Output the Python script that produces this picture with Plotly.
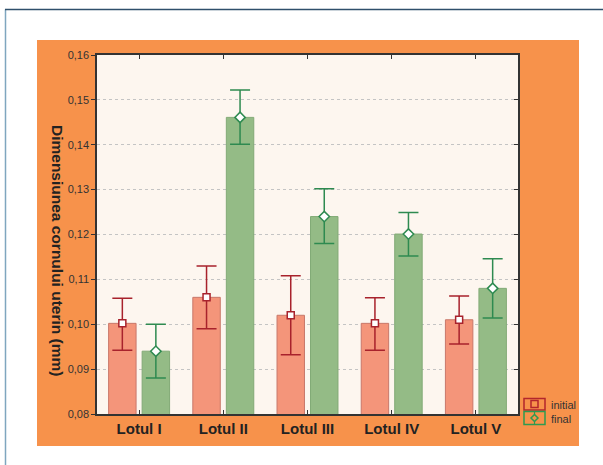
import plotly.graph_objects as go

categories = ["Lotul I", "Lotul II", "Lotul III", "Lotul IV", "Lotul V"]
initial_mean = [0.1002, 0.1060, 0.1020, 0.1002, 0.1010]
initial_low = [0.0942, 0.0990, 0.0932, 0.0942, 0.0956]
initial_high = [0.1058, 0.1130, 0.1108, 0.1059, 0.1063]
final_mean = [0.0940, 0.1461, 0.1240, 0.1201, 0.1080]
final_low = [0.0880, 0.1401, 0.1180, 0.1152, 0.1014]
final_high = [0.1000, 0.1522, 0.1302, 0.1249, 0.1146]
y_ticks = [0.08, 0.09, 0.10, 0.11, 0.12, 0.13, 0.14, 0.15, 0.16]

W, H = 603, 465
L, R, T, B = 97, 518, 55, 414

def px(x):
    return (x - L) / (R - L)

def py(y):
    return (B - y) / (B - T)

idx = list(range(len(categories)))
shift = 0.199
bw = 0.326

C_INI = "#F4957A"
C_INI_LINE = "#C8786A"
C_INI_ERR = "#A8222C"
C_FIN = "#94BB86"
C_FIN_LINE = "#82AA76"
C_FIN_ERR = "#2E8A50"

fig = go.Figure()
fig.add_trace(go.Bar(x=idx, y=initial_mean, width=bw, offset=-shift - bw / 2,
                     marker=dict(color=C_INI, line=dict(color=C_INI_LINE, width=1)),
                     showlegend=False, hoverinfo="skip"))
fig.add_trace(go.Bar(x=idx, y=final_mean, width=bw, offset=shift - bw / 2,
                     marker=dict(color=C_FIN, line=dict(color=C_FIN_LINE, width=1)),
                     showlegend=False, hoverinfo="skip"))

fig.add_trace(go.Scatter(
    x=[i - shift for i in idx], y=initial_mean, mode="markers",
    marker=dict(symbol="square", size=7, color="white", line=dict(color=C_INI_ERR, width=1.5)),
    error_y=dict(type="data", symmetric=False,
                 array=[h - m for h, m in zip(initial_high, initial_mean)],
                 arrayminus=[m - l for l, m in zip(initial_low, initial_mean)],
                 color=C_INI_ERR, thickness=1.5, width=10),
    showlegend=False, hoverinfo="skip"))
fig.add_trace(go.Scatter(
    x=[i + shift for i in idx], y=final_mean, mode="markers",
    marker=dict(symbol="diamond", size=8, color="white", line=dict(color=C_FIN_ERR, width=1.5)),
    error_y=dict(type="data", symmetric=False,
                 array=[h - m for h, m in zip(final_high, final_mean)],
                 arrayminus=[m - l for l, m in zip(final_low, final_mean)],
                 color=C_FIN_ERR, thickness=1.5, width=10),
    showlegend=False, hoverinfo="skip"))

# right-side y axis for inside ticks
fig.add_trace(go.Scatter(x=[0], y=[0.08], yaxis="y2", mode="markers",
                         marker=dict(opacity=0), showlegend=False, hoverinfo="skip"))

shapes = [
    # orange panel
    dict(type="rect", xref="paper", yref="paper", x0=px(37), x1=px(579), y0=py(446), y1=py(40),
         fillcolor="#F7924B", line=dict(width=0), layer="below"),
    # plot area background
    dict(type="rect", xref="paper", yref="paper", x0=0, x1=1, y0=0, y1=1,
         fillcolor="#FDF6EF", line=dict(width=0), layer="below"),
    # page frame
    dict(type="line", xref="paper", yref="paper", x0=px(5.5), x1=px(5.5), y0=py(9.5), y1=py(470),
         line=dict(color="#7FA6BF", width=1.5)),
    dict(type="line", xref="paper", yref="paper", x0=px(5), x1=px(610), y0=py(9.5), y1=py(9.5),
         line=dict(color="#2F4F6B", width=1.5)),
    # legend boxes
    dict(type="rect", xref="paper", yref="paper", x0=px(524), x1=px(545), y0=py(410), y1=py(398.5),
         line=dict(color="#B3262C", width=1.5)),
    dict(type="rect", xref="paper", yref="paper", x0=px(531), x1=px(538), y0=py(407.5), y1=py(400.5),
         line=dict(color="#B3262C", width=1.5)),
    dict(type="rect", xref="paper", yref="paper", x0=px(524), x1=px(545), y0=py(424.5), y1=py(411.5),
         line=dict(color="#2E9A50", width=1.5)),
    dict(type="line", xref="paper", yref="paper", x0=px(534.5), x1=px(534.5), y0=py(424.5), y1=py(411.5),
         line=dict(color="#2E9A50", width=1.2)),
    dict(type="path", xref="paper", yref="paper",
         path=f"M {px(534.5)} {py(414.5)} L {px(538)} {py(418)} L {px(534.5)} {py(421.5)} L {px(531)} {py(418)} Z",
         fillcolor="#F7924B", line=dict(color="#2E9A50", width=1.5)),
]

annotations = [
    dict(text="<b>Dimensiunea cornului uterin (mm)</b>", textangle=90, xref="paper", yref="paper",
         x=px(58), y=py(250), xanchor="center", yanchor="middle", showarrow=False,
         font=dict(size=15.5, color="#222222", family="Liberation Sans, Arial, sans-serif")),
    dict(text="initial", xref="paper", yref="paper", x=px(549), y=py(404.5), xanchor="left",
         yanchor="middle", showarrow=False, font=dict(size=11, color="#333333")),
    dict(text="final", xref="paper", yref="paper", x=px(549), y=py(418.5), xanchor="left",
         yanchor="middle", showarrow=False, font=dict(size=11, color="#333333")),
]

fig.update_layout(
    width=W, height=H,
    margin=dict(l=L, r=W - R, t=T, b=H - B, pad=0),
    paper_bgcolor="white", plot_bgcolor="#FDF6EF",
    separators=",.",
    barmode="overlay",
    font=dict(family="Liberation Sans, Arial, sans-serif", color="#333333"),
    shapes=shapes, annotations=annotations,
    xaxis=dict(range=[-0.5, 4.5], tickvals=idx, ticktext=[f"<b>{c}</b>" for c in categories],
               tickfont=dict(size=15, color="#222222"), ticks="inside", ticklen=4, tickcolor="#333333",
               showline=True, linecolor="#333333", linewidth=1.5, mirror="ticks",
               showgrid=False, zeroline=False, fixedrange=True),
    yaxis=dict(range=[0.08, 0.16], tickvals=y_ticks, tickformat=".2f",
               tickfont=dict(size=11, color="#333333"), ticks="outside", ticklen=4, tickcolor="#333333",
               showline=True, linecolor="#333333", linewidth=1.5, mirror=True,
               showgrid=True, gridcolor="#C4C4C4", griddash="dot", gridwidth=1, zeroline=False,
               fixedrange=True),
    yaxis2=dict(range=[0.08, 0.16], tickvals=y_ticks, overlaying="y", side="right",
                showticklabels=False, ticks="inside", ticklen=4, tickcolor="#333333",
                showgrid=False, zeroline=False, showline=False, fixedrange=True),
)

fig.write_html("out.html", config={"displayModeBar": False},
               post_script="document.body.style.margin='0';")
